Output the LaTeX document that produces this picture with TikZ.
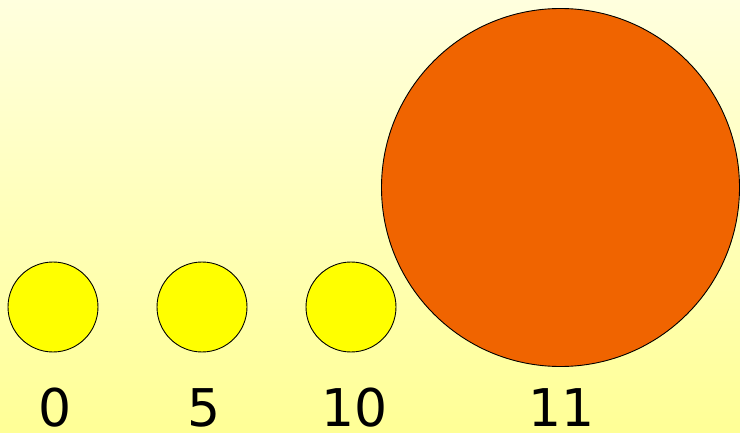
\documentclass[tikz,border=0pt]{standalone}
\usepackage{fontspec}
\setmainfont{DejaVu Sans}
\usepackage{tikz}
\usetikzlibrary{positioning}
\definecolor{bgtop}{RGB}{255,255,222}
\definecolor{bgbot}{RGB}{255,255,150}
\definecolor{ballyel}{RGB}{255,255,0}
\definecolor{ballorg}{RGB}{240,100,0}

\begin{document}
\begin{tikzpicture}[x=1pt, y=1pt,
    ball/.style={circle, draw=black, line width=0.9pt, inner sep=0pt},
    small/.style={ball, fill=ballyel, minimum size=90pt},
    big/.style={ball, fill=ballorg, minimum size=358pt},
    num/.style={anchor=base, inner sep=0pt, font=\fontsize{52}{60}\selectfont}
]
\shade[top color=bgtop, bottom color=bgbot] (0,0) rectangle (740,432);
\useasboundingbox (0,0) rectangle (740,432);

\node[small] (b0) at (53,125) {};
\node[small] (b5) at (202,125) {};
\node[small] (b10) at (351,125) {};
\node[big] (b11) at (560.5,244.5) {};

\node[num] (n0) at (55,6) {0};
\node[num] (n5) at (204,6) {5};
\node[num] (n10) at (355,6) {10};
\node[num] (n11) at (562,6) {11};
\end{tikzpicture}
\end{document}
